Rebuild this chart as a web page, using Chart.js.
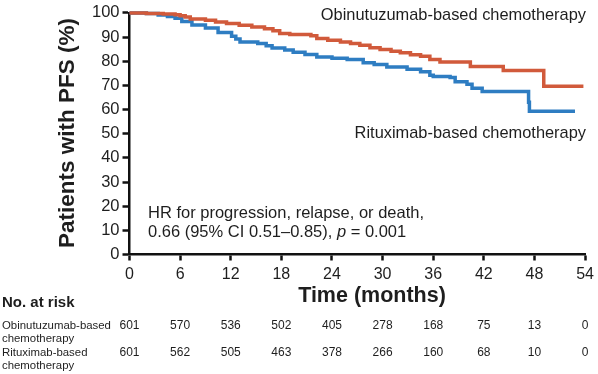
<!DOCTYPE html>
<html>
<head>
<meta charset="utf-8">
<script src="https://cdn.jsdelivr.net/npm/chart.js@4.4.1/dist/chart.umd.min.js"></script>
<style>
  html, body { margin: 0; padding: 0; background: #fff; }
  #wrap { width: 598px; height: 374px; }
</style>
</head>
<body>
<div id="wrap"><canvas id="kmChart" width="598" height="374"></canvas></div>
<script>
// KM step points (months, % progression-free)
const obiTimes = [0, 2, 4, 5.4, 6, 6.6, 7.2, 9, 10.2, 11.5, 13, 14.5, 16, 17, 17.8, 19, 21.5, 22.2, 23.5, 25, 26.2, 27.3, 28.5, 29.7, 31, 32.1, 33.3, 34.5, 35.6, 36.8, 40.4, 44.3, 49.1, 53.8];
const obiPfs   = [100, 99.8, 99.5, 99.2, 98.8, 98.3, 97.5, 97.0, 96.2, 95.6, 94.9, 94.2, 93.4, 92.6, 91.5, 91.1, 90.5, 89.4, 88.7, 88.0, 87.3, 86.6, 85.6, 84.8, 84.1, 83.5, 82.7, 82.1, 80.7, 79.7, 77.8, 76.2, 69.6, 69.6];

const rituxTimes = [0, 2, 3.4, 4.5, 5.4, 6.2, 7.4, 9, 10.5, 12.1, 12.6, 13.1, 15.2, 16.2, 16.9, 18.4, 19.4, 20.8, 22.2, 24, 25.8, 27.7, 29, 30.5, 32.9, 34.5, 35.6, 36, 38, 38.6, 40, 40.6, 41.8, 47.3, 47.4, 52.8];
const rituxPfs   = [100, 99.7, 99.1, 98.5, 97.8, 96.4, 95.0, 93.7, 91.9, 90.3, 89.2, 88.0, 87.3, 86.4, 85.5, 84.6, 83.7, 82.8, 81.7, 81.2, 80.7, 79.4, 78.6, 77.6, 76.7, 75.6, 74.2, 73.7, 73.3, 71.5, 70.5, 68.8, 67.5, 63.0, 59.3, 59.3];

const xTicks = [0, 6, 12, 18, 24, 30, 36, 42, 48, 54];
const obiAtRisk = [601, 570, 536, 502, 405, 278, 168, 75, 13, 0];
const rituxAtRisk = [601, 562, 505, 463, 378, 266, 160, 68, 10, 0];

const obiLabel = 'Obinutuzumab-based chemotherapy';
const rituxLabel = 'Rituximab-based chemotherapy';
const hrLines = ['HR for progression, relapse, or death,', '0.66 (95% CI 0.51\u20130.85), '];

const FONT = '"Liberation Sans", Arial, Helvetica, sans-serif';
const TXT = '#1e1e1e';
const RED = '#d15a3b';
const BLUE = '#2e7dc2';

function toPoints(ts, vs) {
    return ts.map((t, i) => ({ x: t, y: vs[i] }));
}

const textPlugin = {
    id: 'kmText',
    afterDraw(chart) {
        const ctx = chart.ctx;
        const xs = chart.scales.x;
        ctx.save();
        ctx.fillStyle = TXT;

        // y axis title
        ctx.save();
        ctx.translate(68, 133);
        ctx.rotate(-Math.PI / 2);
        ctx.font = 'bold 22.5px ' + FONT;
        ctx.textAlign = 'center';
        ctx.textBaseline = 'middle';
        ctx.fillText('Patients with PFS (%)', 0, 0);
        ctx.restore();

        // x axis title
        ctx.font = 'bold 21.5px ' + FONT;
        ctx.textAlign = 'center';
        ctx.textBaseline = 'middle';
        ctx.fillText('Time (months)', 372, 296);

        // curve labels
        ctx.font = '16.4px ' + FONT;
        ctx.textAlign = 'right';
        ctx.fillText(obiLabel, 586, 15);
        ctx.fillText(rituxLabel, 586, 133);

        // HR annotation
        ctx.textAlign = 'left';
        ctx.font = '16.5px ' + FONT;
        ctx.fillText(hrLines[0], 148, 213);
        ctx.fillText(hrLines[1], 148, 232);
        let w = ctx.measureText(hrLines[1]).width;
        ctx.font = 'italic 16.5px ' + FONT;
        ctx.fillText('p', 148 + w, 232);
        w += ctx.measureText('p').width;
        ctx.font = '16.5px ' + FONT;
        ctx.fillText(' = 0.001', 148 + w, 232);

        // risk table
        ctx.font = 'bold 15px ' + FONT;
        ctx.fillText('No. at risk', 2, 303);
        ctx.font = '11.4px ' + FONT;
        ctx.fillText('Obinutuzumab-based', 2, 326);
        ctx.fillText('chemotherapy', 2, 339);
        ctx.fillText('Rituximab-based', 2, 352.5);
        ctx.fillText('chemotherapy', 2, 366);
        ctx.font = '12px ' + FONT;
        ctx.textAlign = 'center';
        xTicks.forEach((t, i) => {
            const px = xs.getPixelForValue(t);
            ctx.fillText(String(obiAtRisk[i]), px, 326);
            ctx.fillText(String(rituxAtRisk[i]), px, 352.5);
        });
        ctx.restore();
    }
};

new Chart(document.getElementById('kmChart'), {
    type: 'line',
    data: {
        datasets: [
            {
                label: obiLabel,
                data: toPoints(obiTimes, obiPfs),
                borderColor: RED,
                borderWidth: 3.5,
                pointRadius: 0,
                stepped: 'before',
                clip: 6
            },
            {
                label: rituxLabel,
                data: toPoints(rituxTimes, rituxPfs),
                borderColor: BLUE,
                borderWidth: 3.5,
                pointRadius: 0,
                stepped: 'before',
                clip: 6
            }
        ]
    },
    options: {
        responsive: false,
        animation: false,
        layout: { padding: { top: 9.5, right: 11, bottom: 84.5, left: 0 } },
        plugins: {
            legend: { display: false },
            tooltip: { enabled: false }
        },
        scales: {
            x: {
                type: 'linear',
                min: 0,
                max: 54,
                afterFit: s => { s.height = 35; },
                afterBuildTicks: s => { s.ticks = xTicks.map(v => ({ value: v })); },
                border: { color: '#111', width: 2.5 },
                grid: { drawOnChartArea: false, drawTicks: true, tickLength: 6, tickWidth: 2.5, tickColor: '#111' },
                ticks: { color: TXT, font: { family: FONT, size: 16 }, padding: 4, maxRotation: 0 }
            },
            y: {
                min: 0,
                max: 100,
                afterFit: s => { s.width = 129.5; },
                border: { color: '#111', width: 2.5 },
                grid: { drawOnChartArea: false, drawTicks: true, tickLength: 7, tickWidth: 2.5, tickColor: '#111' },
                ticks: { stepSize: 10, color: TXT, font: { family: FONT, size: 16.5 }, padding: 3 }
            }
        }
    },
    plugins: [textPlugin]
});
</script>
</body>
</html>
